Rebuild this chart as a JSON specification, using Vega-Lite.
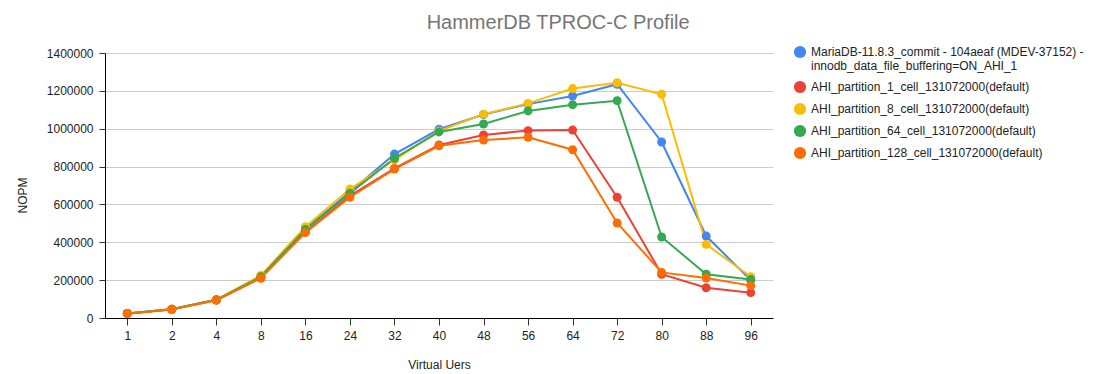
{
  "$schema": "https://vega.github.io/schema/vega-lite/v6.json",
  "width": 668,
  "height": 265,
  "autosize": {"type": "none"},
  "padding": {"left": 105, "top": 53, "right": 320, "bottom": 56},
  "background": "white",
  "title": {
    "text": "HammerDB TPROC-C Profile",
    "frame": "bounds",
    "anchor": "middle",
    "fontSize": 20,
    "font": "Liberation Sans",
    "fontWeight": "normal",
    "color": "#757575",
    "offset": 12,
    "dx": 8
  },
  "config": {
    "font": "Liberation Sans",
    "view": {"stroke": null},
    "axis": {
      "labelFont": "Liberation Sans",
      "titleFont": "Liberation Sans",
      "labelFontSize": 12,
      "titleFontSize": 12,
      "titleFontWeight": "normal",
      "labelColor": "#222222",
      "titleColor": "#222222",
      "domainColor": "#000000",
      "tickColor": "#333333"
    },
    "legend": {
      "labelFont": "Liberation Sans",
      "labelFontSize": 12,
      "labelColor": "#222222",
      "rowPadding": 8,
      "labelLimit": 400
    }
  },
  "data": {
    "values": [
      {"users": 1, "series": "S0", "nopm": 24000},
      {"users": 2, "series": "S0", "nopm": 46000},
      {"users": 4, "series": "S0", "nopm": 96000},
      {"users": 8, "series": "S0", "nopm": 218000},
      {"users": 16, "series": "S0", "nopm": 470000},
      {"users": 24, "series": "S0", "nopm": 665000},
      {"users": 32, "series": "S0", "nopm": 866000},
      {"users": 40, "series": "S0", "nopm": 997000},
      {"users": 48, "series": "S0", "nopm": 1075000},
      {"users": 56, "series": "S0", "nopm": 1130000},
      {"users": 64, "series": "S0", "nopm": 1173000},
      {"users": 72, "series": "S0", "nopm": 1235000},
      {"users": 80, "series": "S0", "nopm": 930000},
      {"users": 88, "series": "S0", "nopm": 433000},
      {"users": 96, "series": "S0", "nopm": 200000},

      {"users": 1, "series": "S1", "nopm": 24000},
      {"users": 2, "series": "S1", "nopm": 46000},
      {"users": 4, "series": "S1", "nopm": 95000},
      {"users": 8, "series": "S1", "nopm": 214000},
      {"users": 16, "series": "S1", "nopm": 455000},
      {"users": 24, "series": "S1", "nopm": 645000},
      {"users": 32, "series": "S1", "nopm": 790000},
      {"users": 40, "series": "S1", "nopm": 914000},
      {"users": 48, "series": "S1", "nopm": 967000},
      {"users": 56, "series": "S1", "nopm": 990000},
      {"users": 64, "series": "S1", "nopm": 993000},
      {"users": 72, "series": "S1", "nopm": 638000},
      {"users": 80, "series": "S1", "nopm": 231000},
      {"users": 88, "series": "S1", "nopm": 160000},
      {"users": 96, "series": "S1", "nopm": 134000},

      {"users": 1, "series": "S2", "nopm": 24000},
      {"users": 2, "series": "S2", "nopm": 47000},
      {"users": 4, "series": "S2", "nopm": 97000},
      {"users": 8, "series": "S2", "nopm": 225000},
      {"users": 16, "series": "S2", "nopm": 482000},
      {"users": 24, "series": "S2", "nopm": 681000},
      {"users": 32, "series": "S2", "nopm": 835000},
      {"users": 40, "series": "S2", "nopm": 988000},
      {"users": 48, "series": "S2", "nopm": 1077000},
      {"users": 56, "series": "S2", "nopm": 1134000},
      {"users": 64, "series": "S2", "nopm": 1212000},
      {"users": 72, "series": "S2", "nopm": 1243000},
      {"users": 80, "series": "S2", "nopm": 1182000},
      {"users": 88, "series": "S2", "nopm": 389000},
      {"users": 96, "series": "S2", "nopm": 218000},

      {"users": 1, "series": "S3", "nopm": 24000},
      {"users": 2, "series": "S3", "nopm": 46000},
      {"users": 4, "series": "S3", "nopm": 96000},
      {"users": 8, "series": "S3", "nopm": 218000},
      {"users": 16, "series": "S3", "nopm": 468000},
      {"users": 24, "series": "S3", "nopm": 659000},
      {"users": 32, "series": "S3", "nopm": 844000},
      {"users": 40, "series": "S3", "nopm": 983000},
      {"users": 48, "series": "S3", "nopm": 1025000},
      {"users": 56, "series": "S3", "nopm": 1094000},
      {"users": 64, "series": "S3", "nopm": 1127000},
      {"users": 72, "series": "S3", "nopm": 1148000},
      {"users": 80, "series": "S3", "nopm": 428000},
      {"users": 88, "series": "S3", "nopm": 231000},
      {"users": 96, "series": "S3", "nopm": 204000},

      {"users": 1, "series": "S4", "nopm": 23000},
      {"users": 2, "series": "S4", "nopm": 45000},
      {"users": 4, "series": "S4", "nopm": 94000},
      {"users": 8, "series": "S4", "nopm": 210000},
      {"users": 16, "series": "S4", "nopm": 451000},
      {"users": 24, "series": "S4", "nopm": 638000},
      {"users": 32, "series": "S4", "nopm": 787000},
      {"users": 40, "series": "S4", "nopm": 910000},
      {"users": 48, "series": "S4", "nopm": 940000},
      {"users": 56, "series": "S4", "nopm": 955000},
      {"users": 64, "series": "S4", "nopm": 889000},
      {"users": 72, "series": "S4", "nopm": 502000},
      {"users": 80, "series": "S4", "nopm": 241000},
      {"users": 88, "series": "S4", "nopm": 211000},
      {"users": 96, "series": "S4", "nopm": 171000}
    ]
  },
  "encoding": {
    "x": {
      "field": "users",
      "type": "ordinal",
      "scale": {"type": "point", "padding": 0.5},
      "axis": {"title": "Virtual Uers", "labelAngle": 0, "tickSize": 7, "labelPadding": 5, "titlePadding": 18, "grid": false}
    },
    "y": {
      "field": "nopm",
      "type": "quantitative",
      "scale": {"domain": [0, 1400000], "nice": false},
      "axis": {"title": "NOPM", "values": [0, 200000, 400000, 600000, 800000, 1000000, 1200000, 1400000], "format": "d", "gridColor": "#cccccc", "tickSize": 6, "labelPadding": 6, "titlePadding": 17, "titleY": 142}
    }
  },
  "layer": [
    {
      "mark": {"type": "line", "strokeWidth": 2},
      "encoding": {
        "stroke": {
          "field": "series",
          "type": "nominal",
          "legend": null,
          "scale": {
            "domain": ["S0", "S1", "S2", "S3", "S4"],
            "range": ["#4285F4", "#EA4335", "#FBBC04", "#34A853", "#FF6D01"]
          }
        }
      }
    },
    {
      "mark": {"type": "point", "filled": true, "size": 80, "opacity": 1, "shape": "circle"},
      "encoding": {
        "color": {
          "field": "series",
          "type": "nominal",
          "scale": {
            "domain": ["S0", "S1", "S2", "S3", "S4"],
            "range": ["#4285F4", "#EA4335", "#FBBC04", "#34A853", "#FF6D01"]
          },
          "legend": {
            "title": null,
            "orient": "none",
            "legendX": 688,
            "legendY": -8,
            "symbolType": "circle",
            "symbolSize": 150,
            "symbolOpacity": 1,
            "labelExpr": "datum.label == 'S0' ? ['MariaDB-11.8.3_commit - 104aeaf (MDEV-37152) -', 'innodb_data_file_buffering=ON_AHI_1'] : datum.label == 'S1' ? 'AHI_partition_1_cell_131072000(default)' : datum.label == 'S2' ? 'AHI_partition_8_cell_131072000(default)' : datum.label == 'S3' ? 'AHI_partition_64_cell_131072000(default)' : 'AHI_partition_128_cell_131072000(default)'"
          }
        }
      }
    }
  ],
  "resolve": {"scale": {"stroke": "independent", "color": "independent"}}
}
